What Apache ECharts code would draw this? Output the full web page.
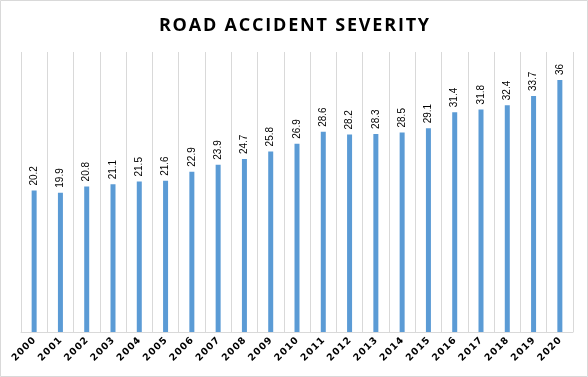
<!DOCTYPE html>
<html>
<head>
<meta charset="utf-8">
<script src="https://cdn.jsdelivr.net/npm/echarts@6/dist/echarts.min.js"></script>
<style>
  html, body { margin: 0; padding: 0; background: #fff; }
  #main { width: 588px; height: 377px; }
</style>
</head>
<body>
<div id="main"></div>
<script>
// years on the x axis
const years = ["2000", "2001", "2002", "2003", "2004", "2005", "2006", "2007", "2008", "2009", "2010",
  "2011", "2012", "2013", "2014", "2015", "2016", "2017", "2018", "2019", "2020"];
// severity values
const severity = [20.2, 19.9, 20.8, 21.1, 21.5, 21.6, 22.9, 23.9, 24.7, 25.8, 26.9,
  28.6, 28.2, 28.3, 28.5, 29.1, 31.4, 31.8, 32.4, 33.7, 36];

const chart = echarts.init(document.getElementById("main"));

// spread letters a bit, like the spaced title / axis text
const spaced = (s, gap) => s.split("").join(gap);

const option = {
  animation: false,
  backgroundColor: "#fff",
  title: {
    text: spaced("ROAD ACCIDENT SEVERITY", "\u200A"),
    left: "center",
    top: 12,
    textStyle: {
      fontFamily: "Open Sans",
      fontWeight: "bold",
      fontSize: 18,
      color: "#000",
    },
  },
  graphic: [
    {
      type: "rect",
      shape: { x: 0.5, y: 0.5, width: 587, height: 376 },
      style: { fill: "none", stroke: "#d9d9d9", lineWidth: 1 },
      silent: true,
    },
  ],
  grid: {
    left: 21,
    right: 15,
    top: 52,
    bottom: 45,
  },
  xAxis: {
    type: "category",
    data: years,
    boundaryGap: true,
    axisLine: { lineStyle: { color: "#d9d9d9" } },
    axisTick: { show: false },
    splitLine: { show: true, lineStyle: { color: "#d9d9d9" } },
    axisLabel: {
      interval: 0,
      rotate: 45,
      margin: 7,
      fontFamily: "DejaVu Sans",
      fontWeight: "bold",
      fontSize: 9.5,
      color: "#000",
      formatter: (v) => spaced(v, "\u200A"),
    },
  },
  yAxis: {
    type: "value",
    min: 0,
    max: 40,
    show: false,
    splitLine: { show: false },
  },
  series: [
    {
      type: "bar",
      data: severity,
      barWidth: 5,
      itemStyle: { color: "#5b9bd5" },
      label: {
        show: true,
        position: "top",
        rotate: 90,
        align: "left",
        verticalAlign: "middle",
        distance: 5,
        fontFamily: "Liberation Sans",
        fontSize: 10,
        color: "#000",
      },
    },
  ],
};

chart.setOption(option);
</script>
</body>
</html>
